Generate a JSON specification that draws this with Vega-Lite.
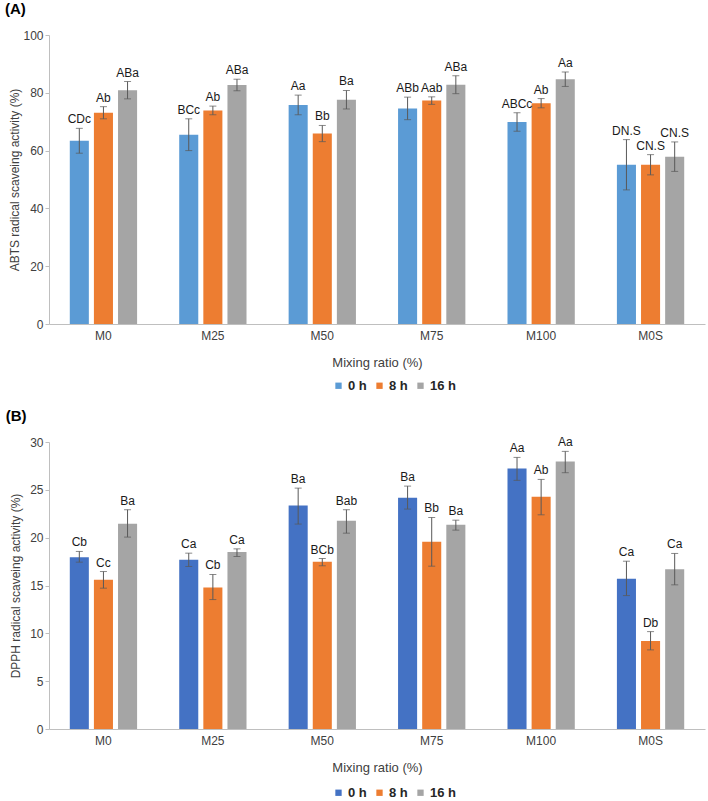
{
  "$schema": "https://vega.github.io/schema/vega-lite/v6.json",
  "background": "white",
  "padding": {"left": 4, "top": 2, "right": 2, "bottom": 2},
  "config": {
    "font": "Liberation Sans",
    "view": {"stroke": null},
    "axis": {"labelFont": "Liberation Sans", "titleFont": "Liberation Sans", "labelColor": "#404040", "titleColor": "#404040", "labelFontSize": 12, "titleFontSize": 12, "titleFontWeight": "normal", "domainColor": "#BFBFBF", "tickColor": "#BFBFBF", "grid": false},
    "legend": {"labelFontWeight": "bold", "labelFontSize": 13, "labelColor": "#262626", "symbolType": "square", "symbolSize": 40, "symbolStrokeWidth": 0, "orient": "none", "direction": "horizontal", "columnPadding": 6, "labelOffset": 3, "padding": 0, "legendX": 283, "legendY": 344}
  },
  "datasets": {
    "abts": [
      {"g": "M0", "t": "0 h", "v": 63.4, "lo": 59.1, "hi": 67.7, "lab": "CDc"},
      {"g": "M0", "t": "8 h", "v": 73.1, "lo": 71.0, "hi": 75.2, "lab": "Ab"},
      {"g": "M0", "t": "16 h", "v": 80.9, "lo": 77.9, "hi": 83.9, "lab": "ABa"},
      {"g": "M25", "t": "0 h", "v": 65.5, "lo": 60.0, "hi": 71.0, "lab": "BCc"},
      {"g": "M25", "t": "8 h", "v": 73.9, "lo": 72.4, "hi": 75.4, "lab": "Ab"},
      {"g": "M25", "t": "16 h", "v": 82.7, "lo": 80.7, "hi": 84.7, "lab": "ABa"},
      {"g": "M50", "t": "0 h", "v": 75.8, "lo": 72.4, "hi": 79.2, "lab": "Aa"},
      {"g": "M50", "t": "8 h", "v": 65.9, "lo": 63.1, "hi": 68.7, "lab": "Bb"},
      {"g": "M50", "t": "16 h", "v": 77.6, "lo": 74.4, "hi": 80.8, "lab": "Ba"},
      {"g": "M75", "t": "0 h", "v": 74.6, "lo": 70.7, "hi": 78.5, "lab": "ABb"},
      {"g": "M75", "t": "8 h", "v": 77.3, "lo": 76.0, "hi": 78.6, "lab": "Aab"},
      {"g": "M75", "t": "16 h", "v": 82.8, "lo": 79.7, "hi": 85.9, "lab": "ABa"},
      {"g": "M100", "t": "0 h", "v": 69.9, "lo": 66.7, "hi": 73.1, "lab": "ABCc"},
      {"g": "M100", "t": "8 h", "v": 76.4, "lo": 74.8, "hi": 78.0, "lab": "Ab"},
      {"g": "M100", "t": "16 h", "v": 84.7, "lo": 82.2, "hi": 87.2, "lab": "Aa"},
      {"g": "M0S", "t": "0 h", "v": 55.1, "lo": 46.4, "hi": 63.8, "lab": "DN.S"},
      {"g": "M0S", "t": "8 h", "v": 55.1, "lo": 51.6, "hi": 58.6, "lab": "CN.S"},
      {"g": "M0S", "t": "16 h", "v": 57.9, "lo": 52.8, "hi": 63.0, "lab": "CN.S"}
    ],
    "dpph": [
      {"g": "M0", "t": "0 h", "v": 17.96, "lo": 17.44, "hi": 18.56, "lab": "Cb"},
      {"g": "M0", "t": "8 h", "v": 15.59, "lo": 14.72, "hi": 16.46, "lab": "Cc"},
      {"g": "M0", "t": "16 h", "v": 21.45, "lo": 20.06, "hi": 22.92, "lab": "Ba"},
      {"g": "M25", "t": "0 h", "v": 17.68, "lo": 16.99, "hi": 18.38, "lab": "Ca"},
      {"g": "M25", "t": "8 h", "v": 14.79, "lo": 13.53, "hi": 16.15, "lab": "Cb"},
      {"g": "M25", "t": "16 h", "v": 18.49, "lo": 18.03, "hi": 18.83, "lab": "Ca"},
      {"g": "M50", "t": "0 h", "v": 23.37, "lo": 21.42, "hi": 25.18, "lab": "Ba"},
      {"g": "M50", "t": "8 h", "v": 17.47, "lo": 17.06, "hi": 17.82, "lab": "BCb"},
      {"g": "M50", "t": "16 h", "v": 21.76, "lo": 20.47, "hi": 22.92, "lab": "Bab"},
      {"g": "M75", "t": "0 h", "v": 24.17, "lo": 22.99, "hi": 25.39, "lab": "Ba"},
      {"g": "M75", "t": "8 h", "v": 19.57, "lo": 17.02, "hi": 22.11, "lab": "Bb"},
      {"g": "M75", "t": "16 h", "v": 21.35, "lo": 20.79, "hi": 21.83, "lab": "Ba"},
      {"g": "M100", "t": "0 h", "v": 27.24, "lo": 25.99, "hi": 28.39, "lab": "Aa"},
      {"g": "M100", "t": "8 h", "v": 24.28, "lo": 22.39, "hi": 26.09, "lab": "Ab"},
      {"g": "M100", "t": "16 h", "v": 27.97, "lo": 26.79, "hi": 29.02, "lab": "Aa"},
      {"g": "M0S", "t": "0 h", "v": 15.70, "lo": 13.95, "hi": 17.54, "lab": "Ca"},
      {"g": "M0S", "t": "8 h", "v": 9.21, "lo": 8.27, "hi": 10.18, "lab": "Db"},
      {"g": "M0S", "t": "16 h", "v": 16.71, "lo": 15.07, "hi": 18.35, "lab": "Ca"}
    ]
  },
  "spacing": 16,
  "resolve": {"scale": {"color": "independent", "y": "independent"}, "legend": {"color": "independent"}},
  "vconcat": [
    {
      "title": {"text": "(A)", "anchor": "start", "frame": "bounds", "fontSize": 15, "fontWeight": "bold", "color": "#000000", "dx": -4, "offset": 12},
      "width": 656,
      "height": 289,
      "data": {"name": "abts"},
      "encoding": {
        "x": {"field": "g", "type": "nominal", "sort": ["M0", "M25", "M50", "M75", "M100", "M0S"], "scale": {"paddingInner": 0.385, "paddingOuter": 0.19}, "title": "Mixing ratio (%)", "axis": {"labelAngle": 0, "ticks": false, "labelPadding": 6, "titlePadding": 15, "titleFontSize": 13}},
        "xOffset": {"field": "t", "type": "nominal", "sort": ["0 h", "8 h", "16 h"], "scale": {"paddingInner": 0.21, "paddingOuter": 0}}
      },
      "layer": [
        {
          "mark": {"type": "bar"},
          "encoding": {
            "y": {"field": "v", "type": "quantitative", "scale": {"domain": [0, 100]}, "title": "ABTS radical scaveing activity  (%)", "axis": {"values": [0, 20, 40, 60, 80, 100], "tickSize": 4, "labelPadding": 2, "titlePadding": 1}},
            "color": {"field": "t", "type": "nominal", "sort": ["0 h", "8 h", "16 h"], "scale": {"domain": ["0 h", "8 h", "16 h"], "range": ["#5B9BD5", "#ED7D31", "#A5A5A5"]}, "legend": {"title": null}}
          }
        },
        {"mark": {"type": "rule", "color": "#595959", "strokeWidth": 1}, "encoding": {"y": {"field": "lo", "type": "quantitative"}, "y2": {"field": "hi"}}},
        {"mark": {"type": "tick", "color": "#595959", "size": 7, "thickness": 1}, "encoding": {"y": {"field": "lo", "type": "quantitative"}}},
        {"mark": {"type": "tick", "color": "#595959", "size": 7, "thickness": 1}, "encoding": {"y": {"field": "hi", "type": "quantitative"}}},
        {"mark": {"type": "text", "baseline": "bottom", "dy": -2, "fontSize": 12, "color": "#1a1a1a"}, "encoding": {"y": {"field": "hi", "type": "quantitative"}, "text": {"field": "lab"}}}
      ]
    },
    {
      "title": {"text": "(B)", "anchor": "start", "frame": "bounds", "fontSize": 15, "fontWeight": "bold", "color": "#000000", "dx": -4, "offset": 12},
      "width": 656,
      "height": 287,
      "data": {"name": "dpph"},
      "encoding": {
        "x": {"field": "g", "type": "nominal", "sort": ["M0", "M25", "M50", "M75", "M100", "M0S"], "scale": {"paddingInner": 0.385, "paddingOuter": 0.19}, "title": "Mixing ratio (%)", "axis": {"labelAngle": 0, "ticks": false, "labelPadding": 6, "titlePadding": 15, "titleFontSize": 13}},
        "xOffset": {"field": "t", "type": "nominal", "sort": ["0 h", "8 h", "16 h"], "scale": {"paddingInner": 0.21, "paddingOuter": 0}}
      },
      "layer": [
        {
          "mark": {"type": "bar"},
          "encoding": {
            "y": {"field": "v", "type": "quantitative", "scale": {"domain": [0, 30]}, "title": "DPPH radical scaveing activity  (%)", "axis": {"values": [0, 5, 10, 15, 20, 25, 30], "tickSize": 4, "labelPadding": 2, "titlePadding": 7}},
            "color": {"field": "t", "type": "nominal", "sort": ["0 h", "8 h", "16 h"], "scale": {"domain": ["0 h", "8 h", "16 h"], "range": ["#4472C4", "#ED7D31", "#A5A5A5"]}, "legend": {"title": null}}
          }
        },
        {"mark": {"type": "rule", "color": "#595959", "strokeWidth": 1}, "encoding": {"y": {"field": "lo", "type": "quantitative"}, "y2": {"field": "hi"}}},
        {"mark": {"type": "tick", "color": "#595959", "size": 7, "thickness": 1}, "encoding": {"y": {"field": "lo", "type": "quantitative"}}},
        {"mark": {"type": "tick", "color": "#595959", "size": 7, "thickness": 1}, "encoding": {"y": {"field": "hi", "type": "quantitative"}}},
        {"mark": {"type": "text", "baseline": "bottom", "dy": -2, "fontSize": 12, "color": "#1a1a1a"}, "encoding": {"y": {"field": "hi", "type": "quantitative"}, "text": {"field": "lab"}}}
      ]
    }
  ]
}
